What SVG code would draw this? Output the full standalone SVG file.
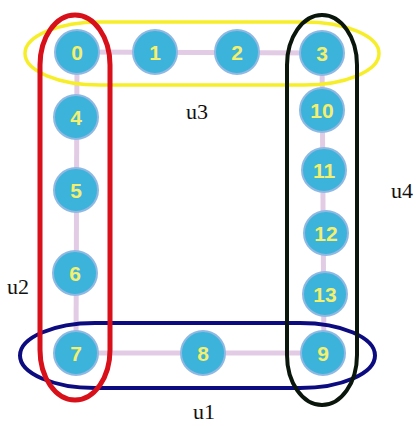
<svg xmlns="http://www.w3.org/2000/svg" width="419" height="426" viewBox="0 0 419 426">
<style>
.e{stroke:#e2cbe4;stroke-width:5;fill:none}
.n circle{fill:#3bb3da;stroke:#8fb9e3;stroke-width:2}
.n text{font-family:"Liberation Sans",Arial,sans-serif;font-weight:bold;font-size:21px;fill:#f4ef6e;text-anchor:middle;dominant-baseline:central}
.lbl{font-family:"Liberation Serif","Times New Roman",serif;font-size:22px;fill:#111}
.g{fill:none}
</style>
<rect width="419" height="426" fill="#fff"/>
<g id="connectors">
<path class="e" d="M77 52 L322 53"/>
<path class="e" d="M77 52 L76 353"/>
<path class="e" d="M76 353 L322 353"/>
<path class="e" d="M322 53 L324 353"/>
</g>
<g id="n0" class="n"><circle cx="77" cy="52" r="22"/><text x="77" y="52">0</text></g>
<g id="n1" class="n"><circle cx="155" cy="52" r="22"/><text x="155" y="52">1</text></g>
<g id="n2" class="n"><circle cx="237" cy="52" r="22"/><text x="237" y="52">2</text></g>
<g id="n3" class="n"><circle cx="322" cy="53" r="22"/><text x="322" y="53">3</text></g>
<g id="n4" class="n"><circle cx="76" cy="117" r="22"/><text x="76" y="117">4</text></g>
<g id="n5" class="n"><circle cx="76" cy="190" r="22"/><text x="76" y="190">5</text></g>
<g id="n6" class="n"><circle cx="75" cy="273" r="22"/><text x="75" y="273">6</text></g>
<g id="n7" class="n"><circle cx="76" cy="353" r="22"/><text x="76" y="353">7</text></g>
<g id="n8" class="n"><circle cx="203" cy="353" r="22"/><text x="203" y="353">8</text></g>
<g id="n9" class="n"><circle cx="323" cy="353" r="22"/><text x="323" y="353">9</text></g>
<g id="n10" class="n"><circle cx="322" cy="110" r="22"/><text x="322" y="110">10</text></g>
<g id="n11" class="n"><circle cx="324" cy="170" r="22"/><text x="324" y="170">11</text></g>
<g id="n12" class="n"><circle cx="326" cy="233" r="22"/><text x="326" y="233">12</text></g>
<g id="n13" class="n"><circle cx="325" cy="294" r="22"/><text x="325" y="294">13</text></g>
<g id="u3">
<rect class="g" x="25" y="22" width="354" height="63" rx="75" ry="31.5" stroke="#f7ee2a" stroke-width="3.5"/>
<text class="lbl" x="186" y="119">u3</text>
</g>
<g id="u1">
<rect class="g" x="20" y="323" width="355" height="65" rx="75" ry="32.5" stroke="#0c0c80" stroke-width="4"/>
<text class="lbl" x="193" y="419">u1</text>
</g>
<g id="u2">
<rect class="g" x="40" y="15" width="70" height="385" rx="35" ry="50" stroke="#d8101a" stroke-width="5"/>
<text class="lbl" x="7" y="294">u2</text>
</g>
<g id="u4">
<rect class="g" x="287" y="15" width="70" height="390" rx="35" ry="50" stroke="#0a160c" stroke-width="4"/>
<text class="lbl" x="391" y="198">u4</text>
</g>
</svg>
